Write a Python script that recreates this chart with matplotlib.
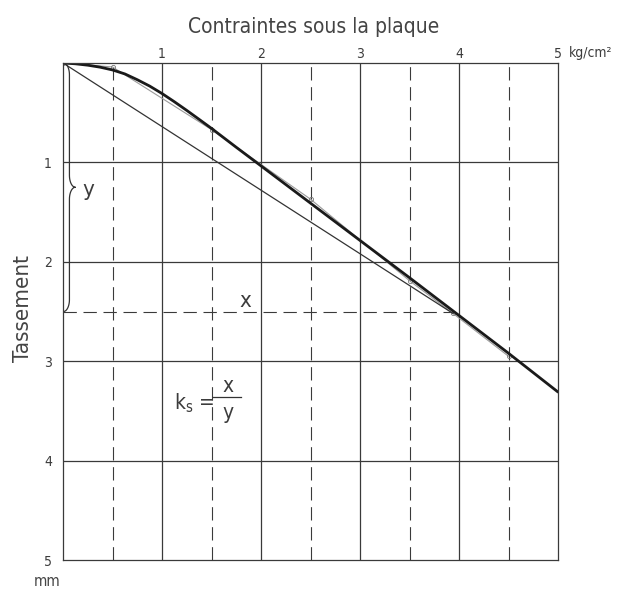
import numpy as np
import matplotlib.pyplot as plt

plt.rcParams["font.family"] = ["DejaVu Sans"]
plt.rcParams["font.stretch"] = "condensed"
plt.rcParams["mathtext.fontset"] = "dejavusans"

# courbe lissee (tassement en mm en fonction de la contrainte en kg/cm2)
stress = [0, 0.125, 0.25, 0.375, 0.5, 0.625, 0.75, 0.875, 1.0, 1.125, 1.25, 1.375,
          1.5, 1.75, 2.0, 2.5, 3.0, 3.5, 4.0, 4.5, 5.0]
settle = [0, 0.008, 0.022, 0.042, 0.07, 0.11, 0.168, 0.232, 0.307, 0.39, 0.477, 0.567,
          0.658, 0.848, 1.035, 1.41, 1.785, 2.16, 2.54, 2.92, 3.31]
# points mesures
meas_stress = [0, 0.5, 1.5, 2.5, 3.5, 3.94, 4.5]
meas_settle = [0, 0.04, 0.67, 1.37, 2.19, 2.52, 2.95]
# secante pour ks
sec_x = [0, 3.94]
sec_y = [0, 2.52]
xticks = [1, 2, 3, 4, 5]
yticks = [1, 2, 3, 4, 5]

gridc = "#3a3a3a"
txtc = "#3c3c3c"

fig = plt.figure(figsize=(6.17, 5.92), dpi=100)
ax = fig.add_axes([63/617, 32/592, 495/617, 497/592])
ax.set_xlim(0, 5)
ax.set_ylim(5, 0)

for v in [1, 2, 3, 4]:
    ax.axvline(v, color=gridc, lw=0.9)
    ax.axhline(v, color=gridc, lw=0.9)
for v in [0.5, 1.5, 2.5, 3.5, 4.5]:
    ax.axvline(v, color=gridc, lw=0.8, linestyle=(0, (12, 6)))
ax.plot([0, sec_x[1]], [2.5, 2.5], color=gridc, lw=0.8, linestyle=(0, (12, 6)))

ax.plot(meas_stress, meas_settle, color="#9a9a9a", lw=0.8, marker="o", ms=3,
        mfc="none", mec="#777777", mew=0.6)
ax.plot(sec_x, sec_y, color="#333333", lw=0.9)
ax.plot(stress, settle, color="#1a1a1a", lw=2.0, solid_capstyle="round",
        solid_joinstyle="round")

# accolade y
r = 0.06
t = np.linspace(0, np.pi/2, 20)
bx = np.concatenate([r*np.sin(t), [r, r], r + r*(1-np.cos(t)),
                     r + r*(1-np.sin(t)), [r, r], r*np.cos(t)])
by = np.concatenate([0.12*(1-np.cos(t)), [0.12, 1.13], 1.13 + 0.12*np.sin(t),
                     1.25 + 0.12*(1-np.cos(t)), [1.37, 2.38], 2.38 + 0.12*np.sin(t)])
ax.plot(bx + 0.005, by, color="#333333", lw=0.9)
ax.text(0.26, 1.28, "y", fontsize=16, ha="center", va="center", color=txtc)
ax.text(1.84, 2.39, "x", fontsize=16, ha="center", va="center", color=txtc)

# formule ks = x / y
ax.text(1.12, 3.42, r"$\mathsf{k_s}$ =", fontsize=15, ha="left", va="center", color=txtc)
ax.text(1.665, 3.25, "x", fontsize=15, ha="center", va="center", color=txtc)
ax.text(1.665, 3.52, "y", fontsize=15, ha="center", va="center", color=txtc)
ax.plot([1.52, 1.80], [3.36, 3.36], color="#333333", lw=0.9)

for s in ax.spines.values():
    s.set_color(gridc)
    s.set_linewidth(0.9)

ax.xaxis.tick_top()
ax.set_xticks(xticks)
ax.set_xticklabels([str(v) for v in xticks])
ax.set_yticks(yticks)
ax.set_yticklabels([str(v) for v in yticks])
ax.tick_params(length=0, labelsize=10, colors=txtc)
ax.tick_params(axis="x", pad=1.5)
ax.tick_params(axis="y", pad=8)

ax.text(5.11, 1.021, "kg/cm²", transform=ax.get_xaxis_transform(), fontsize=10,
        va="center", ha="left", color=txtc)
fig.text(314/617, 1 - 27/592, "Contraintes sous la plaque", fontsize=15, ha="center",
         va="center", color="#444444")
fig.text(23/617, 1 - 308/592, "Tassement", fontsize=16, rotation=90, ha="center",
         va="center", color="#444444")
fig.text(47/617, 1 - 582/592, "mm", fontsize=11, ha="center", va="center", color="#444444")

fig.savefig("out.png", dpi=100, facecolor="white")
